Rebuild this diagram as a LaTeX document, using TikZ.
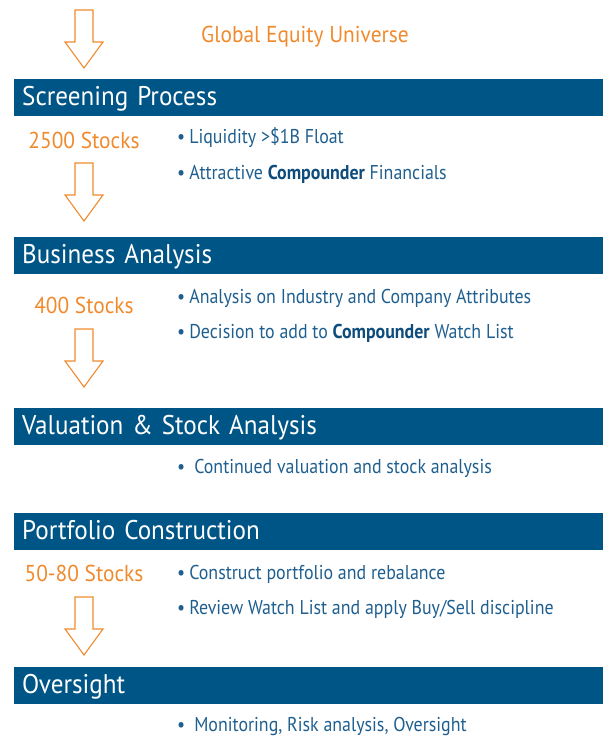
\documentclass[tikz,border=0pt]{standalone}
\usepackage{fontspec}
\setmainfont[FakeStretch=0.93]{PT Sans}
\newfontfamily\bulletfont[FakeStretch=0.895]{PT Sans}
\usetikzlibrary{positioning}
\definecolor{barblue}{HTML}{005587}
\definecolor{textblue}{HTML}{1F5F8F}
\definecolor{boldblue}{HTML}{0E4C7C}
\definecolor{stockorange}{HTML}{F08A2C}
\newcommand{\cmp}{\textbf{\color{boldblue}Compounder}}
\newcommand{\bul}{\textbullet\kern4pt}

\begin{document}
\begin{tikzpicture}[x=1pt, y=-1pt,
  stagebar/.style={fill=barblue, anchor=north west, minimum width=589pt, text width=573pt, align=left, inner xsep=8pt, inner ysep=0pt, text height=26pt, text depth=11pt, text=white, font=\fontsize{27}{30}\selectfont},
  stockcount/.style={anchor=base, inner sep=0pt, text=stockorange, font=\fontsize{23}{26}\selectfont},
  bullet/.style={anchor=base west, inner sep=0pt, text=textblue, font=\bulletfont\fontsize{20}{24}\selectfont},
  flowarrow/.pic={\draw[stockorange, line width=1.1pt, line join=miter]
    (-9,0) -- (9,0) -- (9,32) -- (19,32) -- (0,58) -- (-19,32) -- (-9,32) -- cycle;}
]
\useasboundingbox (0,0) rectangle (603,736);

% top
\pic (arrow0) at (84,10) {flowarrow};
\node[stockcount] (universe) at (305,42) {Global Equity Universe};

% screening
\node[stagebar] (screening) at (14,79) {Screening Process};
\node[stockcount] (count2500) at (84,148) {2500 Stocks};
\node[bullet] (b1a) at (177,143) {\bul Liquidity >\$1B Float};
\node[bullet] (b1b) at (177,179) {\bul Attractive \cmp{} Financials};
\pic (arrow1) at (84,163) {flowarrow};

% business analysis
\node[stagebar] (business) at (14,237) {Business Analysis};
\node[stockcount] (count400) at (84,313) {400 Stocks};
\node[bullet] (b2a) at (177,303) {\bul Analysis on Industry and Company Attributes};
\node[bullet] (b2b) at (177,338) {\bul Decision to add to \cmp{} Watch List};
\pic (arrow2) at (84,329) {flowarrow};

% valuation
\node[stagebar] (valuation) at (14,408) {Valuation \& Stock Analysis};
\node[bullet] (b3a) at (177,473) {\textbullet\kern9pt Continued valuation and stock analysis};

% portfolio
\node[stagebar] (portfolio) at (14,513) {Portfolio Construction};
\node[stockcount] (count5080) at (84,581) {50-80 Stocks};
\node[bullet] (b4a) at (177,579) {\bul Construct portfolio and rebalance};
\node[bullet] (b4b) at (177,614) {\bul Review Watch List and apply Buy/Sell discipline};
\pic (arrow3) at (84,597) {flowarrow};

% oversight
\node[stagebar] (oversight) at (14,667) {Oversight};
\node[bullet] (b5a) at (177,731) {\textbullet\kern9pt Monitoring, Risk analysis, Oversight};
\end{tikzpicture}
\end{document}
